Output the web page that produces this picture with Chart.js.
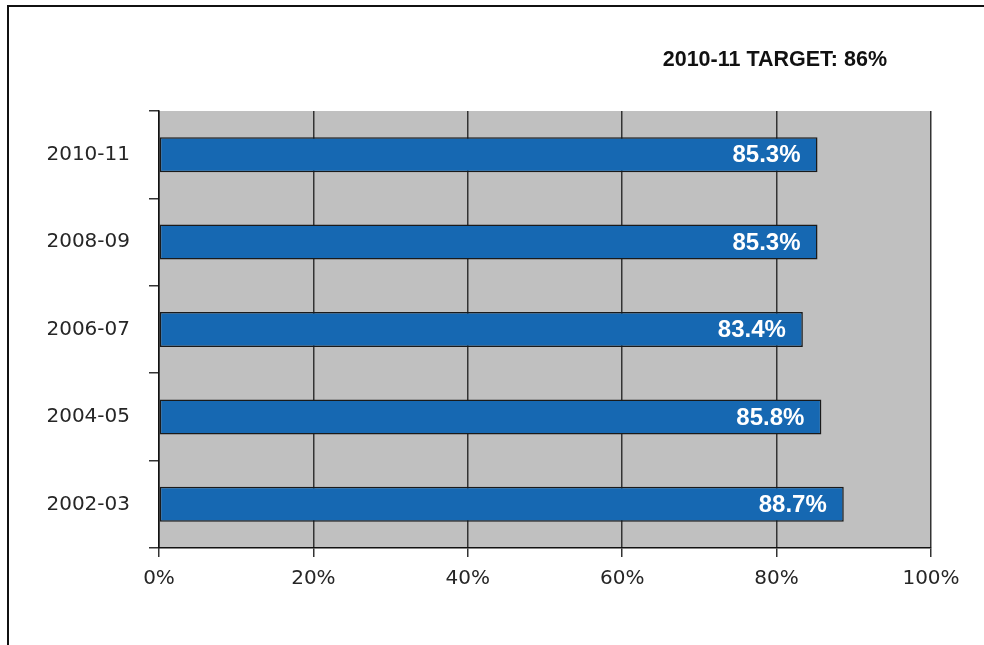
<!DOCTYPE html>
<html>
<head>
<meta charset="utf-8">
<script src="https://cdn.jsdelivr.net/npm/chart.js@4.4.0/dist/chart.umd.min.js"></script>
<style>
  html, body { margin: 0; padding: 0; background: #fff; overflow: hidden; }
  #wrap { position: relative; width: 984px; height: 645px; }
  #frame { position: absolute; left: 7px; top: 5px; width: 990px; height: 700px;
           border-top: 2px solid #111; border-left: 2px solid #111; box-sizing: border-box; }
  canvas { position: absolute; left: 0; top: 0; }
</style>
</head>
<body>
<div id="wrap">
  <div id="frame"></div>
  <canvas id="c" width="984" height="645"></canvas>
</div>
<script>
const categories = ['2010-11', '2008-09', '2006-07', '2004-05', '2002-03'];
const values = [85.3, 85.3, 83.4, 85.8, 88.7];
const xTicks = [0, 20, 40, 60, 80, 100];
const titleText = '2010-11 TARGET: 86%';

const plotBg = {
  id: 'plotBg',
  beforeDraw(chart) {
    const { ctx, chartArea: a } = chart;
    ctx.save();
    ctx.fillStyle = '#c0c0c0';
    ctx.fillRect(a.left, a.top, a.right - a.left, a.bottom - a.top);
    ctx.restore();
  }
};

const barLabels = {
  id: 'barLabels',
  afterDatasetsDraw(chart) {
    const { ctx } = chart;
    const meta = chart.getDatasetMeta(0);
    ctx.save();
    ctx.fillStyle = '#ffffff';
    ctx.font = 'bold 24px "Liberation Sans", Arial, sans-serif';
    ctx.textAlign = 'right';
    ctx.textBaseline = 'middle';
    meta.data.forEach((el, i) => {
      ctx.fillText(values[i].toFixed(1) + '%', el.x - 17, el.y + 1);
    });
    ctx.restore();
  }
};

const targetTitle = {
  id: 'targetTitle',
  afterDraw(chart) {
    const { ctx, chartArea: a } = chart;
    ctx.save();
    ctx.fillStyle = '#111';
    ctx.font = 'bold 21.5px "Liberation Sans", Arial, sans-serif';
    ctx.textAlign = 'right';
    ctx.textBaseline = 'middle';
    ctx.fillText(titleText, a.right - 44, 60);
    ctx.restore();
  }
};

new Chart(document.getElementById('c'), {
  type: 'bar',
  data: {
    labels: categories,
    datasets: [{
      data: values,
      backgroundColor: '#1668b2',
      borderColor: '#1a1a1a',
      borderWidth: 1.5,
      borderSkipped: false,
      barPercentage: 0.4,
      categoryPercentage: 1.0
    }]
  },
  options: {
    indexAxis: 'y',
    responsive: false,
    animation: false,
    layout: { padding: { left: 0, top: 111, right: 53, bottom: 0 } },
    plugins: { legend: { display: false }, tooltip: { enabled: false }, title: { display: false } },
    scales: {
      x: {
        min: 0, max: 100,
        afterBuildTicks(scale) { scale.ticks = xTicks.map(v => ({ value: v })); },
        afterFit(scale) { scale.height = 97; },
        ticks: {
          callback: v => v + '%',
          color: '#262626',
          font: { family: '"DejaVu Sans", sans-serif', size: 20 },
          padding: 10,
          maxRotation: 0
        },
        grid: { color: '#333333', lineWidth: 1.5, tickLength: 9, drawOnChartArea: true },
        border: { display: true, color: '#111', width: 1.5 }
      },
      y: {
        offset: true,
        afterFit(scale) { scale.width = 159; },
        ticks: {
          color: '#262626',
          font: { family: '"DejaVu Sans", sans-serif', size: 20 },
          padding: 19
        },
        grid: { offset: true, drawOnChartArea: false, color: '#333333', lineWidth: 1.5, tickLength: 10 },
        border: { display: true, color: '#111', width: 1.5 }
      }
    }
  },
  plugins: [plotBg, barLabels, targetTitle]
});
</script>
</body>
</html>
